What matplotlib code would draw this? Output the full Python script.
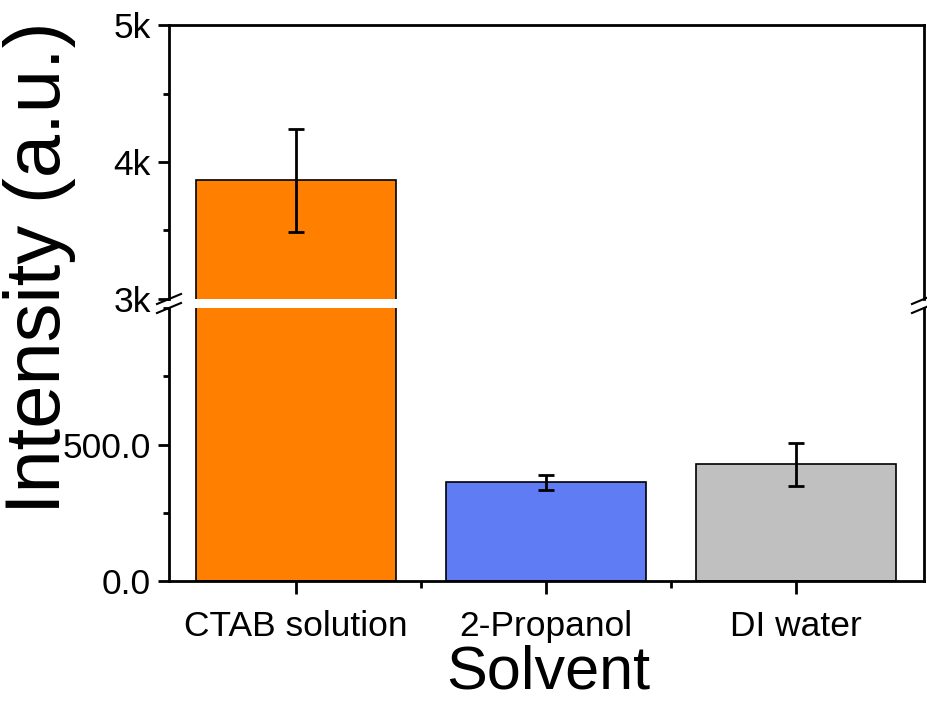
import matplotlib
matplotlib.use("Agg")
import matplotlib.pyplot as plt
from matplotlib.ticker import FixedLocator, MultipleLocator, FuncFormatter

plt.rcParams['font.family'] = ['Liberation Sans', 'DejaVu Sans']

solvents = ["CTAB solution", "2-Propanol", "DI water"]
intensity = [3865, 362, 427]
errors = [377, 27, 78]
colors = ["#FF8000", "#5F7CF5", "#C0C0C0"]

fig = plt.figure(figsize=(9.28, 7.02), dpi=100)
left, width = 169 / 928, 755 / 928
ax_top = fig.add_axes([left, 403 / 702, width, 274 / 702])
ax_bot = fig.add_axes([left, 121 / 702, width, 273 / 702])

x = list(range(len(solvents)))
for ax in (ax_top, ax_bot):
    ax.bar(x, intensity, width=0.8, color=colors, edgecolor="black", linewidth=1.2, zorder=2)
    ax.errorbar(x, intensity, yerr=errors, fmt="none", ecolor="black",
                elinewidth=2, capsize=6, capthick=2, zorder=3)
    ax.set_xlim(-0.508, 2.512)
    for s in ax.spines.values():
        s.set_linewidth(2)
    ax.tick_params(axis="y", which="major", length=8, width=2, labelsize=25.5, pad=5)
    ax.tick_params(axis="y", which="minor", length=4, width=2)
    ax.tick_params(axis="x", which="major", length=9, width=2, labelsize=25.5, pad=12)
    ax.tick_params(axis="x", which="minor", length=5, width=2)

ax_top.set_ylim(3000, 5000)
ax_top.yaxis.set_major_locator(FixedLocator([3000, 4000, 5000]))
ax_top.yaxis.set_minor_locator(MultipleLocator(500))
ax_top.yaxis.set_major_formatter(FuncFormatter(lambda v, p: "%dk" % (v / 1000)))
ax_top.spines["bottom"].set_visible(False)
ax_top.tick_params(axis="x", which="both", bottom=False, labelbottom=False)

ax_bot.set_ylim(0, 1000)
ax_bot.yaxis.set_major_locator(FixedLocator([0, 500]))
ax_bot.yaxis.set_minor_locator(MultipleLocator(250))
ax_bot.yaxis.set_major_formatter(FuncFormatter(lambda v, p: "%.1f" % v))
ax_bot.spines["top"].set_visible(False)
ax_bot.set_xticks(x)
ax_bot.set_xticklabels(solvents)
ax_bot.xaxis.set_minor_locator(FixedLocator([0.5, 1.5]))

# break marks on both side spines
for xf in (left, left + width):
    for yb in (299, 308):
        yf = 1 - yb / 702
        fig.add_artist(plt.Line2D([xf - 12 / 928, xf + 12 / 928], [yf - 5 / 702, yf + 5 / 702],
                                  color="black", lw=1.5))

fig.text(548 / 928, 1 - 673 / 702, "Solvent", fontsize=44, ha="center", va="center")
fig.text(40 / 928, 1 - 268 / 702, "Intensity (a.u.)", fontsize=56, rotation=90,
         ha="center", va="center")

fig.savefig("out.png", dpi=100)
